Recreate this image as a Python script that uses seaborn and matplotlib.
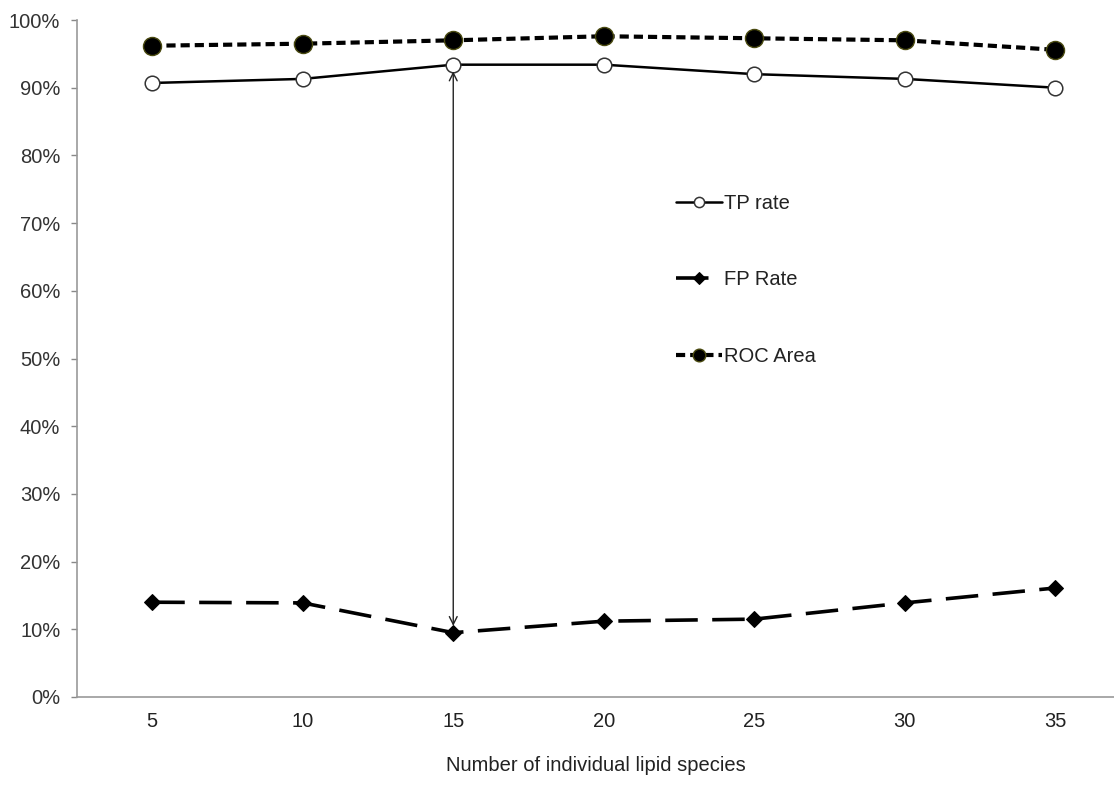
import matplotlib
matplotlib.use("Agg")
import matplotlib.pyplot as plt
import seaborn as sns
import numpy as np
import pandas as pd
from matplotlib.ticker import PercentFormatter

categories = ["5", "10", "15", "20", "25", "30", "35"]
tp_rate = [90.7, 91.3, 93.4, 93.4, 92.0, 91.3, 90.0]
fp_rate = [14.0, 13.9, 9.5, 11.2, 11.5, 13.9, 16.1]
roc_area = [96.2, 96.5, 97.0, 97.6, 97.3, 97.0, 95.6]
y_ticks = list(range(0, 101, 10))

sns.set_theme(style="white")
plt.rcParams['font.family'] = ['Liberation Sans', 'DejaVu Sans']
FS = 14.5

fig = plt.figure(figsize=(11.14, 8.0), dpi=100)
ax = fig.add_axes([77/1114, 103/800, (1114-77)/1114, (697-20)/800])

xpos = np.arange(len(categories))
df = pd.DataFrame({"x": xpos, "TP rate": tp_rate, "FP Rate": fp_rate, "ROC Area": roc_area})

sns.lineplot(data=df, x="x", y="TP rate", ax=ax, color="black", lw=1.8,
             marker="o", markersize=10.5, markerfacecolor="white", markeredgecolor="#333333",
             markeredgewidth=1.1)
sns.lineplot(data=df, x="x", y="FP Rate", ax=ax, color="black", lw=2.6,
             marker="D", markersize=8.5, markerfacecolor="black", markeredgecolor="black")
sns.lineplot(data=df, x="x", y="ROC Area", ax=ax, color="black", lw=3,
             marker="o", markersize=13, markerfacecolor="black", markeredgecolor="#4a4a10",
             markeredgewidth=1.0)
l_tp, l_fp, l_roc = ax.lines[0], ax.lines[1], ax.lines[2]
l_fp.set_dashes([9, 4])
l_roc.set_dashes([2.2, 1.2])
l_tp.set_label("TP rate")
l_fp.set_label("FP Rate")
l_roc.set_label("ROC Area")

# double-headed arrow at 15
ax.annotate("", xy=(2, tp_rate[2] - 1.0), xytext=(2, fp_rate[2] + 1.0),
            arrowprops=dict(arrowstyle="<->", color="#222222", lw=1.0,
                            mutation_scale=14, shrinkA=0, shrinkB=0))

ax.set_xlim(-0.5, -0.5 + (1114 - 77) / 150.5)
ax.set_ylim(0, 100)
ax.set_xticks(xpos)
ax.set_xticklabels(categories)
ax.set_yticks(y_ticks)
ax.yaxis.set_major_formatter(PercentFormatter(decimals=0))
ax.tick_params(axis="y", which="major", left=True, length=4, width=1, color="#888888",
               labelsize=FS, labelcolor="#333333", pad=8)
ax.tick_params(axis="x", which="major", bottom=False, labelsize=FS, labelcolor="#222222", pad=5)

for s in ["top", "right"]:
    ax.spines[s].set_visible(False)
for s in ["left", "bottom"]:
    ax.spines[s].set_color("#999999")
    ax.spines[s].set_linewidth(1.2)

ax.set_xlabel("Number of individual lipid species", fontsize=FS, color="#222222", labelpad=18)
ax.set_ylabel("")

leg = ax.legend(handles=[l_tp, l_fp, l_roc], loc="upper left",
                bbox_to_anchor=((668-77)/1037, (697-186)/677),
                frameon=False, fontsize=FS, labelspacing=2.85, handlelength=2.3,
                handletextpad=0.1, borderaxespad=0, markerscale=0.7)
for t in leg.get_texts():
    t.set_color("#222222")

fig.savefig("out.png", dpi=100)
